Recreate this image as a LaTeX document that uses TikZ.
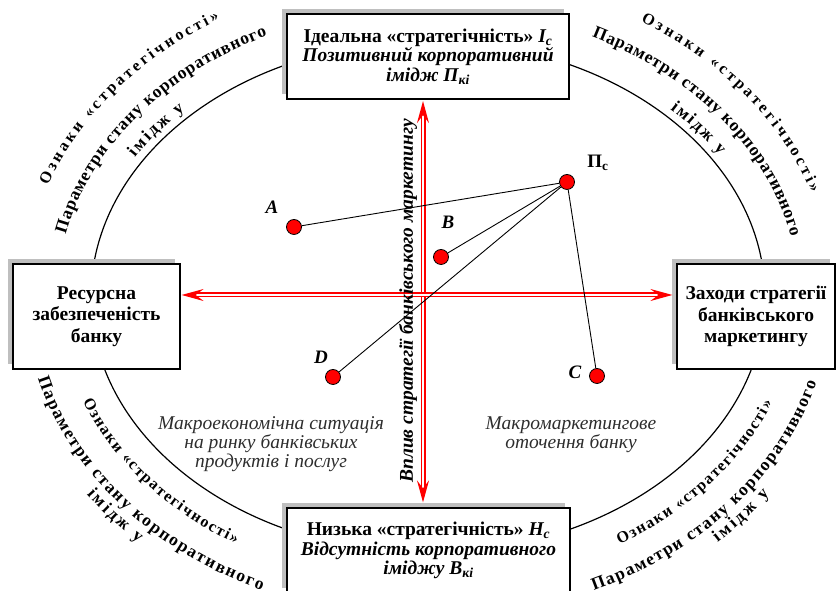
\documentclass[tikz,border=0pt]{standalone}
\usepackage{fontspec}
\setmainfont{Liberation Serif}
\usetikzlibrary{arrows.meta,decorations.text,shadows}

\definecolor{boxshade}{RGB}{191,191,191}
\definecolor{notegray}{RGB}{45,45,45}
\definecolor{signred}{RGB}{255,0,0}

\newcommand{\boxfont}{\fontsize{19.5}{21.5}\selectfont\bfseries}
\newcommand{\capfont}{\fontsize{19.5}{19.5}\selectfont\bfseries}
\newcommand{\notefont}{\fontsize{19.5}{19}\selectfont\itshape}
\newcommand{\labfont}{\fontsize{19}{19}\selectfont\bfseries}
\newcommand{\oznfont}{\fontsize{16}{16}\selectfont\bfseries}
\newcommand{\parfont}{\fontsize{17.5}{17.5}\selectfont\bfseries}

% text spread along an arc of an ellipse concentric with the main one
% #1 x radius, #2 y radius, #3 start angle, #4 end angle, #5 text
\newcommand{\arctext}[5]{%
  \path[decorate, decoration={text along path, text align={fit to path}, text={#5}}]
    (ec) ++(#3:#1 and #2) arc[start angle=#3, end angle=#4, x radius=#1, y radius=#2];}

\begin{document}
\begin{tikzpicture}[x=1pt, y=1pt,
  box/.style={draw=black, line width=1.2pt, fill=white, align=center, inner sep=0pt,
    general shadow={fill=boxshade, shadow xshift=-5pt, shadow yshift=5pt}},
  dot/.style={circle, draw=black, line width=0.8pt, fill=signred, minimum size=15pt, inner sep=0pt},
  link/.style={draw=black, line width=0.9pt},
  axis/.style={draw=signred, line width=1.5pt, double=white, double distance=2pt,
    {Stealth[length=22pt, width=12pt, inset=8pt]}-{Stealth[length=22pt, width=12pt, inset=8pt]}},
  note/.style={align=center, text=notegray, font=\notefont, inner sep=0pt},
  ptlabel/.style={font=\labfont\itshape, inner sep=0pt},
]
\useasboundingbox (0,0) rectangle (836,591);
\coordinate (ec) at (428,294);

% main ellipse
\draw[line width=1.2pt] (ec) ellipse [x radius=337pt, y radius=256pt];

% the four boxes
\node[box, minimum width=282pt, minimum height=85pt, font=\capfont] (top) at (428,534.5)
  {Ідеальна «стратегічність» \textit{І\textsubscript{с}}\\
   \textit{Позитивний корпоративний}\\
   \textit{імідж П\textsubscript{кі}}};
\node[box, minimum width=167pt, minimum height=105pt, font=\boxfont] (res) at (96.5,274.5)
  {Ресурсна\\забезпеченість\\банку};
\node[box, minimum width=158pt, minimum height=105pt, font=\boxfont] (mkt) at (756,274.5)
  {Заходи стратегії\\банківського\\маркетингу};
\node[box, minimum width=283pt, minimum height=85pt, font=\capfont] (bot) at (428.5,40.5)
  {Низька «стратегічність» \textit{Н\textsubscript{с}}\\
   \textit{Відсутність корпоративного}\\
   \textit{іміджу В\textsubscript{кі}}};

% axes
\coordinate (vx) at (423,0);
\coordinate (hy) at (0,296);
\draw[axis, shorten <=1.5pt, shorten >=5pt] (top.south -| vx) -- (bot.north -| vx);
\draw[axis, shorten <=1pt, shorten >=4pt] (res.east |- hy) -- (mkt.west |- hy);

% rotated axis caption
\node[rotate=90, font=\capfont\itshape, inner sep=0pt] (infl) at (408,290)
  {Вплив стратегії банківського маркетингу};

% positions
\node[dot] (Pc) at (567,409) {};
\node[dot] (A) at (294,364) {};
\node[dot] (B) at (441,334) {};
\node[dot] (D) at (333,214) {};
\node[dot] (C) at (597,215) {};
\draw[link] (Pc) -- (A);
\draw[link] (Pc) -- (B);
\draw[link] (Pc) -- (D);
\draw[link] (Pc) -- (C);

\node[font=\labfont, inner sep=0pt] (Pcl) at (598,428) {П\textsubscript{с}};
\node[ptlabel] (Al) at (272,384) {A};
\node[ptlabel] (Bl) at (448,369) {B};
\node[ptlabel] (Dl) at (321,234) {D};
\node[ptlabel] (Cl) at (575,219) {C};

% environment notes
\node[note] (macro) at (271,147) {Макроекономічна ситуація\\на ринку банківських\\продуктів і послуг};
\node[note] (envir) at (571,156) {Макромаркетингове\\оточення банку};

% curved captions, upper left
\arctext{405pt}{324pt}{159.8}{121}{|\oznfont|Ознаки «стратегічності»}
\arctext{371pt}{290pt}{167.5}{115.7}{|\parfont|Параметри стану корпоративного}
\arctext{345pt}{264pt}{148.2}{134.8}{|\parfont|імідж у}
% upper right
\arctext{405pt}{324pt}{58.3}{18.7}{|\oznfont|Ознаки «стратегічності»}
\arctext{371pt}{290pt}{63.8}{11.9}{|\parfont|Параметри стану корпоративного}
\arctext{345pt}{264pt}{45.4}{32.4}{|\parfont|імідж у}
% lower left
\arctext{370pt}{289pt}{201.1}{238.7}{|\oznfont|Ознаки «стратегічності»}
\arctext{403pt}{322pt}{194.6}{245.6}{|\parfont|Параметри стану корпоративного}
\arctext{420pt}{339pt}{215.6}{226.4}{|\parfont|імідж у}
% lower right
\arctext{370pt}{289pt}{-58.8}{-21.5}{|\oznfont|Ознаки «стратегічності»}
\arctext{403pt}{322pt}{-65.7}{-15.4}{|\parfont|Параметри стану корпоративного}
\arctext{420pt}{339pt}{-46.4}{-35.6}{|\parfont|імідж у}
\end{tikzpicture}
\end{document}
